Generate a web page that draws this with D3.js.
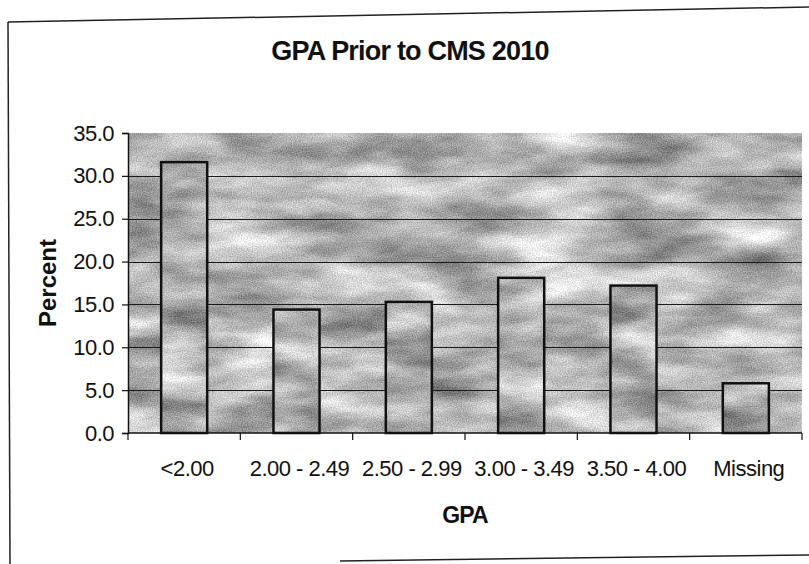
<!DOCTYPE html>
<html>
<head>
<meta charset="utf-8">
<script src="https://cdn.jsdelivr.net/npm/d3@7"></script>
<style>
  html, body { margin: 0; padding: 0; background: #fff; }
  svg { display: block; }
  text { font-family: "Liberation Sans", Arial, sans-serif; fill: #111; }
</style>
</head>
<body>
<svg id="chart" width="809" height="564"></svg>
<script>
// ---- data ----
const categories = ["<2.00", "2.00 - 2.49", "2.50 - 2.99", "3.00 - 3.49", "3.50 - 4.00", "Missing"];
const percents   = [31.6, 14.4, 15.3, 18.1, 17.2, 5.8];
const yTicks     = [0, 5, 10, 15, 20, 25, 30, 35];
const titleText  = "GPA Prior to CMS 2010";
const xTitle     = "GPA";
const yTitle     = "Percent";

// ---- layout ----
const W = 809, H = 564;
const plot = { left: 128, right: 802, top: 133, bottom: 433 };

const svg = d3.select("#chart");

// texture filters (scanned mottled grey look)
const defs = svg.append("defs");
function makeTexture(id, seedBig, seedFine, gain, offset) {
  const f = defs.append("filter").attr("id", id)
    .attr("x", 0).attr("y", 0).attr("width", 1).attr("height", 1)
    .attr("color-interpolation-filters", "sRGB");
  f.append("feTurbulence").attr("type", "fractalNoise")
    .attr("baseFrequency", "0.01 0.03").attr("numOctaves", 4).attr("seed", seedBig).attr("result", "b0");
  f.append("feColorMatrix").attr("in", "b0").attr("type", "matrix")
    .attr("values", "1 0 0 0 0  1 0 0 0 0  1 0 0 0 0  0 0 0 0 1").attr("result", "big");
  f.append("feTurbulence").attr("type", "fractalNoise")
    .attr("baseFrequency", "0.8").attr("numOctaves", 1).attr("seed", seedFine).attr("result", "f0");
  f.append("feColorMatrix").attr("in", "f0").attr("type", "matrix")
    .attr("values", "1 0 0 0 0  1 0 0 0 0  1 0 0 0 0  0 0 0 0 1").attr("result", "fine");
  f.append("feComposite").attr("in", "big").attr("in2", "fine").attr("operator", "arithmetic")
    .attr("k1", 0).attr("k2", 1).attr("k3", 0.5).attr("k4", -0.25).attr("result", "mix");
  f.append("feColorMatrix").attr("in", "mix").attr("type", "matrix")
    .attr("values", `${gain} 0 0 0 ${offset}  ${gain} 0 0 0 ${offset}  ${gain} 0 0 0 ${offset}  0 0 0 0 1`);
}
makeTexture("texBg", 7, 3, 0.85, 0.29);
makeTexture("texBar", 21, 5, 0.85, 0.25);

// scales
const x = d3.scaleBand().domain(categories).range([plot.left, plot.right]).padding(0);
const y = d3.scaleLinear().domain([0, 35]).range([plot.bottom, plot.top]);
const barFrac = 0.41;

// outer (scanned) frame
const frame = svg.append("g").attr("fill", "none").attr("stroke", "#222").attr("stroke-width", 1.5);
frame.append("line").attr("x1", 8).attr("y1", 22).attr("x2", 809).attr("y2", 7);
frame.append("line").attr("x1", 8).attr("y1", 22).attr("x2", 10).attr("y2", 564);
frame.append("line").attr("x1", 340).attr("y1", 561).attr("x2", 809).attr("y2", 555);

// plot background
svg.append("rect")
  .attr("x", plot.left).attr("y", plot.top)
  .attr("width", plot.right - plot.left).attr("height", plot.bottom - plot.top)
  .attr("fill", "#b5b5b5")
  .attr("filter", "url(#texBg)");

// gridlines
svg.append("g").selectAll("line")
  .data(yTicks.filter(t => t > 0 && t < 35))
  .join("line")
  .attr("x1", plot.left).attr("x2", plot.right)
  .attr("y1", d => Math.round(y(d)) + 0.5).attr("y2", d => Math.round(y(d)) + 0.5)
  .attr("stroke", "#1a1a1a").attr("stroke-width", 1.2);

// bars
const bars = svg.append("g");
const barData = categories.map((c, i) => ({ c, v: percents[i] }));
bars.selectAll("rect.fill")
  .data(barData).join("rect").attr("class", "fill")
  .attr("x", d => x(d.c) + x.bandwidth() * (1 - barFrac) / 2)
  .attr("width", x.bandwidth() * barFrac)
  .attr("y", d => y(d.v))
  .attr("height", d => y(0) - y(d.v))
  .attr("fill", "#aaa")
  .attr("filter", "url(#texBar)");
bars.selectAll("rect.edge")
  .data(barData).join("rect").attr("class", "edge")
  .attr("x", d => x(d.c) + x.bandwidth() * (1 - barFrac) / 2)
  .attr("width", x.bandwidth() * barFrac)
  .attr("y", d => y(d.v))
  .attr("height", d => y(0) - y(d.v))
  .attr("fill", "none")
  .attr("stroke", "#111").attr("stroke-width", 2.5);

// y axis
const yAxis = svg.append("g")
  .attr("transform", `translate(${plot.left},0)`)
  .call(d3.axisLeft(y).tickValues(yTicks).tickFormat(d3.format(".1f")).tickSize(6).tickPadding(8));
yAxis.select(".domain").attr("stroke", "#111").attr("stroke-width", 1.5);
yAxis.selectAll(".tick line").attr("stroke", "#111").attr("stroke-width", 1.2);
yAxis.selectAll(".tick text")
  .style("font-family", "'Liberation Sans', Arial, sans-serif")
  .style("font-size", "22px").style("letter-spacing", "-0.5px").attr("fill", "#111");

// x axis: line + boundary ticks
const xAxisG = svg.append("g");
xAxisG.append("line")
  .attr("x1", plot.left).attr("x2", plot.right)
  .attr("y1", plot.bottom).attr("y2", plot.bottom)
  .attr("stroke", "#111").attr("stroke-width", 1.5);
const bounds = categories.map(c => x(c)).concat([x(categories[categories.length - 1]) + x.bandwidth()]);
xAxisG.selectAll("line.tk").data(bounds).join("line").attr("class", "tk")
  .attr("x1", d => d).attr("x2", d => d)
  .attr("y1", plot.bottom).attr("y2", plot.bottom + 7)
  .attr("stroke", "#111").attr("stroke-width", 1.2);

// x tick labels (compress when wider than the category)
const maxW = x.bandwidth() * 0.95;
xAxisG.selectAll("text.lbl").data(categories).join("text").attr("class", "lbl")
  .attr("x", d => x(d) + x.bandwidth() / 2 + 3)
  .attr("y", plot.bottom + 43)
  .attr("text-anchor", "middle")
  .style("font-size", "22px").style("letter-spacing", "-0.5px")
  .text(d => d)
  .each(function () {
    const w = this.getComputedTextLength();
    if (w > maxW) {
      d3.select(this).attr("textLength", maxW).attr("lengthAdjust", "spacingAndGlyphs");
    }
  });

// titles
svg.append("text")
  .attr("x", 410).attr("y", 60)
  .attr("text-anchor", "middle")
  .style("font-size", "27px").style("font-weight", "bold").style("letter-spacing", "-0.8px")
  .text(titleText);

svg.append("text")
  .attr("x", (plot.left + plot.right) / 2).attr("y", 523)
  .attr("text-anchor", "middle")
  .style("font-size", "23px").style("font-weight", "bold").style("letter-spacing", "-0.8px")
  .text(xTitle);

svg.append("text")
  .attr("transform", `translate(56,${(plot.top + plot.bottom) / 2}) rotate(-90)`)
  .attr("text-anchor", "middle")
  .style("font-size", "24px").style("font-weight", "bold")
  .text(yTitle);
</script>
</body>
</html>
